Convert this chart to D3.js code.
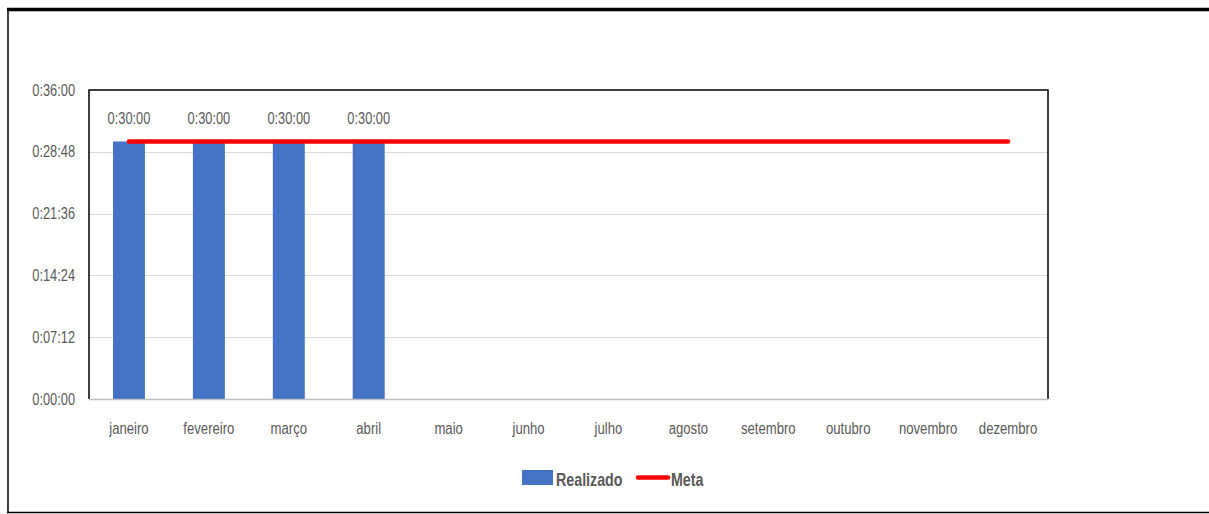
<!DOCTYPE html>
<html>
<head>
<meta charset="utf-8">
<script src="https://cdn.jsdelivr.net/npm/d3@7"></script>
<style>
  html, body { margin: 0; padding: 0; background: #fff; }
  svg { display: block; }
  text { font-family: "Liberation Sans", Arial, sans-serif; fill: #595959; }
</style>
</head>
<body>
<svg id="chart" width="1209" height="514"></svg>
<script>
// Months (x categories)
const months = ["janeiro", "fevereiro", "março", "abril", "maio", "junho",
                "julho", "agosto", "setembro", "outubro", "novembro", "dezembro"];
// Realizado, in seconds (null = no data yet)
const realizado = [1800, 1800, 1800, 1800, null, null, null, null, null, null, null, null];
// Meta, in seconds
const meta = [1800, 1800, 1800, 1800, 1800, 1800, 1800, 1800, 1800, 1800, 1800, 1800];
// Y axis ticks, in seconds (every 7:12)
const yTicks = [0, 432, 864, 1296, 1728, 2160];

const fmt = s => {
  const h = Math.floor(s / 3600), m = Math.floor((s % 3600) / 60), sec = s % 60;
  return h + ":" + String(m).padStart(2, "0") + ":" + String(sec).padStart(2, "0");
};

// Condense glyphs horizontally to a narrow face
function condense(sel, k) {
  sel.each(function () {
    const w = this.getComputedTextLength();
    d3.select(this).attr("textLength", w * k).attr("lengthAdjust", "spacingAndGlyphs");
  });
}

const svg = d3.select("#chart");

// Outer frame
svg.append("line").attr("x1", 7).attr("x2", 1209).attr("y1", 9.5).attr("y2", 9.5)
  .attr("stroke", "#000").attr("stroke-width", 3.5);
svg.append("line").attr("x1", 8).attr("x2", 8).attr("y1", 9).attr("y2", 513)
  .attr("stroke", "#000").attr("stroke-width", 1.5);
svg.append("line").attr("x1", 7).attr("x2", 1209).attr("y1", 512.5).attr("y2", 512.5)
  .attr("stroke", "#000").attr("stroke-width", 1.5);

const plot = { left: 89, right: 1048, top: 90, bottom: 399 };

const x = d3.scaleBand().domain(months).range([plot.left, plot.right]).paddingInner(0.6).paddingOuter(0.3);
const xc = d => x(d) + x.bandwidth() / 2;
const y = d3.scaleLinear().domain([0, 2160]).range([plot.bottom, plot.top]);

// Gridlines
svg.append("g").selectAll("line").data(yTicks.slice(1, -1)).join("line")
  .attr("x1", plot.left).attr("x2", plot.right)
  .attr("y1", d => Math.round(y(d)) + 0.5).attr("y2", d => Math.round(y(d)) + 0.5)
  .attr("stroke", "#d9d9d9").attr("stroke-width", 1);

// Y axis labels
const yAxis = d3.axisLeft(y).tickValues(yTicks).tickFormat(fmt).tickSize(0).tickPadding(14);
const gy = svg.append("g").attr("transform", `translate(${plot.left},0)`).call(yAxis);
gy.select(".domain").remove();
gy.selectAll("text").style("font-size", "16px").attr("fill", "#595959").call(condense, 0.8);

// X axis labels
const xAxis = d3.axisBottom(x).tickSize(0).tickPadding(24);
const gx = svg.append("g").attr("transform", `translate(0,${plot.bottom})`).call(xAxis);
gx.select(".domain").remove();
gx.selectAll("text").style("font-size", "16px").attr("fill", "#595959").call(condense, 0.82);

// Bars
const barData = months.map((m, i) => ({ m, v: realizado[i] })).filter(d => d.v != null);
svg.append("g").selectAll("rect").data(barData).join("rect")
  .attr("x", d => x(d.m)).attr("width", x.bandwidth())
  .attr("y", d => y(d.v)).attr("height", d => y(0) - y(d.v))
  .attr("fill", "#4472c4");

// Bar value labels
svg.append("g").selectAll("text").data(barData).join("text")
  .attr("x", d => xc(d.m)).attr("y", d => y(d.v) - 18)
  .attr("text-anchor", "middle").style("font-size", "16px")
  .text(d => fmt(d.v))
  .call(condense, 0.8);

// Plot area border
svg.append("path")
  .attr("d", `M${plot.left},${plot.bottom}V${plot.top}H${plot.right}V${plot.bottom}`)
  .attr("fill", "none").attr("stroke", "#000").attr("stroke-width", 1.5);
svg.append("line").attr("x1", plot.left).attr("x2", plot.right)
  .attr("y1", plot.bottom + 0.5).attr("y2", plot.bottom + 0.5)
  .attr("stroke", "#bfbfbf").attr("stroke-width", 1.5);

// Meta line
const line = d3.line().x((d, i) => xc(months[i])).y(d => y(d));
svg.append("path").datum(meta).attr("d", line)
  .attr("fill", "none").attr("stroke", "#ff0000").attr("stroke-width", 4.5)
  .attr("stroke-linecap", "round");

// Legend
const lg = svg.append("g");
lg.append("rect").attr("x", 522).attr("y", 470).attr("width", 31).attr("height", 15).attr("fill", "#4472c4");
lg.append("text").attr("x", 556).attr("y", 486).style("font-size", "19px").style("font-weight", "bold")
  .text("Realizado").call(condense, 0.75);
lg.append("line").attr("x1", 638).attr("x2", 668).attr("y1", 477.5).attr("y2", 477.5)
  .attr("stroke", "#ff0000").attr("stroke-width", 4.5).attr("stroke-linecap", "round");
lg.append("text").attr("x", 671).attr("y", 486).style("font-size", "19px").style("font-weight", "bold")
  .text("Meta").call(condense, 0.75);
</script>
</body>
</html>
